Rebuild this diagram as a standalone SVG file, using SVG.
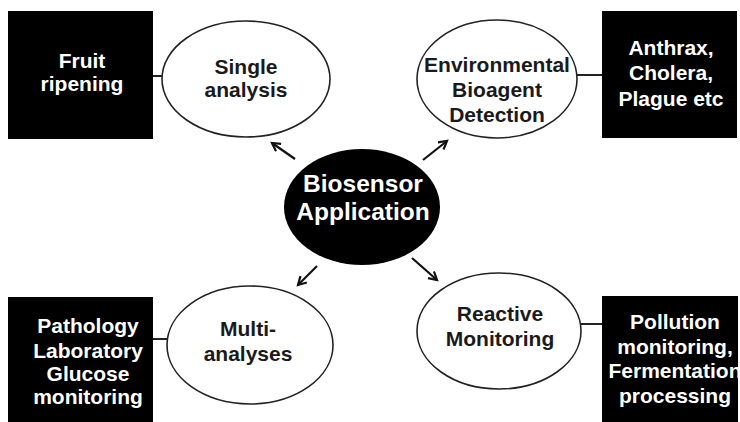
<svg xmlns="http://www.w3.org/2000/svg" width="740" height="422" viewBox="0 0 740 422">
  <style>
    .box { fill: #000; }
    .oval { fill: #fff; stroke: #222; stroke-width: 1.6; }
    .hub { fill: #000; }
    .lbl { font-family: "Liberation Sans", Arial, sans-serif; font-weight: bold; font-size: 21px; text-anchor: middle; }
    .dark { fill: #1a1a1a; }
    .light { fill: #fff; }
    .hubtxt { font-size: 24.5px; }
    .link { stroke: #222; stroke-width: 2; fill: none; }
    .arrow { stroke: #111; stroke-width: 2.2; fill: none; }
  </style>
  <defs>
    <marker id="head" markerWidth="12" markerHeight="12" refX="9" refY="5" orient="auto" markerUnits="userSpaceOnUse">
      <path d="M1,0.5 L9,5 L1,9.5" fill="none" stroke="#111" stroke-width="2.2"/>
    </marker>
  </defs>
  <rect width="740" height="422" fill="#fff"/>

  <!-- connectors -->
  <g id="connectors">
    <line class="link" x1="153" y1="76" x2="163" y2="76"/>
    <line class="link" x1="577" y1="75" x2="602" y2="75"/>
    <line class="link" x1="153" y1="339" x2="168" y2="339"/>
    <line class="link" x1="580" y1="324" x2="602" y2="324"/>
    <line class="arrow" x1="295" y1="159" x2="272" y2="143" marker-end="url(#head)"/>
    <line class="arrow" x1="423" y1="160" x2="447" y2="141" marker-end="url(#head)"/>
    <line class="arrow" x1="317" y1="266" x2="298" y2="285" marker-end="url(#head)"/>
    <line class="arrow" x1="412" y1="258" x2="437" y2="280" marker-end="url(#head)"/>
  </g>

  <g id="fruit-ripening">
    <rect class="box" x="8" y="11" width="145" height="128"/>
    <text class="lbl light" x="82" y="68">Fruit</text>
    <text class="lbl light" x="82" y="91">ripening</text>
  </g>

  <g id="single-analysis">
    <ellipse class="oval" cx="246" cy="79" rx="84" ry="58"/>
    <text class="lbl dark" x="246" y="74">Single</text>
    <text class="lbl dark" x="246" y="97">analysis</text>
  </g>

  <g id="environmental-detection">
    <ellipse class="oval" cx="497" cy="79" rx="80" ry="59"/>
    <text class="lbl dark" x="497" y="72">Environmental</text>
    <text class="lbl dark" x="497" y="97">Bioagent</text>
    <text class="lbl dark" x="497" y="122">Detection</text>
  </g>

  <g id="diseases">
    <rect class="box" x="602" y="11" width="135" height="127"/>
    <text class="lbl light" x="671" y="55">Anthrax,</text>
    <text class="lbl light" x="671" y="80">Cholera,</text>
    <text class="lbl light" x="671" y="106">Plague etc</text>
  </g>

  <g id="biosensor-application">
    <ellipse class="hub" cx="362" cy="207" rx="78" ry="58"/>
    <text class="lbl light hubtxt" x="363" y="192">Biosensor</text>
    <text class="lbl light hubtxt" x="363" y="220">Application</text>
  </g>

  <g id="pathology">
    <rect class="box" x="8" y="297" width="145" height="125"/>
    <text class="lbl light" x="88" y="333">Pathology</text>
    <text class="lbl light" x="88" y="358">Laboratory</text>
    <text class="lbl light" x="88" y="381">Glucose</text>
    <text class="lbl light" x="88" y="404">monitoring</text>
  </g>

  <g id="multi-analyses">
    <ellipse class="oval" cx="250" cy="345" rx="83" ry="59"/>
    <text class="lbl dark" x="248" y="336">Multi-</text>
    <text class="lbl dark" x="248" y="361">analyses</text>
  </g>

  <g id="reactive-monitoring">
    <ellipse class="oval" cx="499" cy="331" rx="82" ry="58"/>
    <text class="lbl dark" x="500" y="321">Reactive</text>
    <text class="lbl dark" x="500" y="346">Monitoring</text>
  </g>

  <g id="pollution-fermentation">
    <rect class="box" x="602" y="296" width="136" height="126"/>
    <text class="lbl light" x="675" y="329">Pollution</text>
    <text class="lbl light" x="675" y="354">monitoring,</text>
    <text class="lbl light" x="675" y="378">Fermentation</text>
    <text class="lbl light" x="675" y="403">processing</text>
  </g>
</svg>
